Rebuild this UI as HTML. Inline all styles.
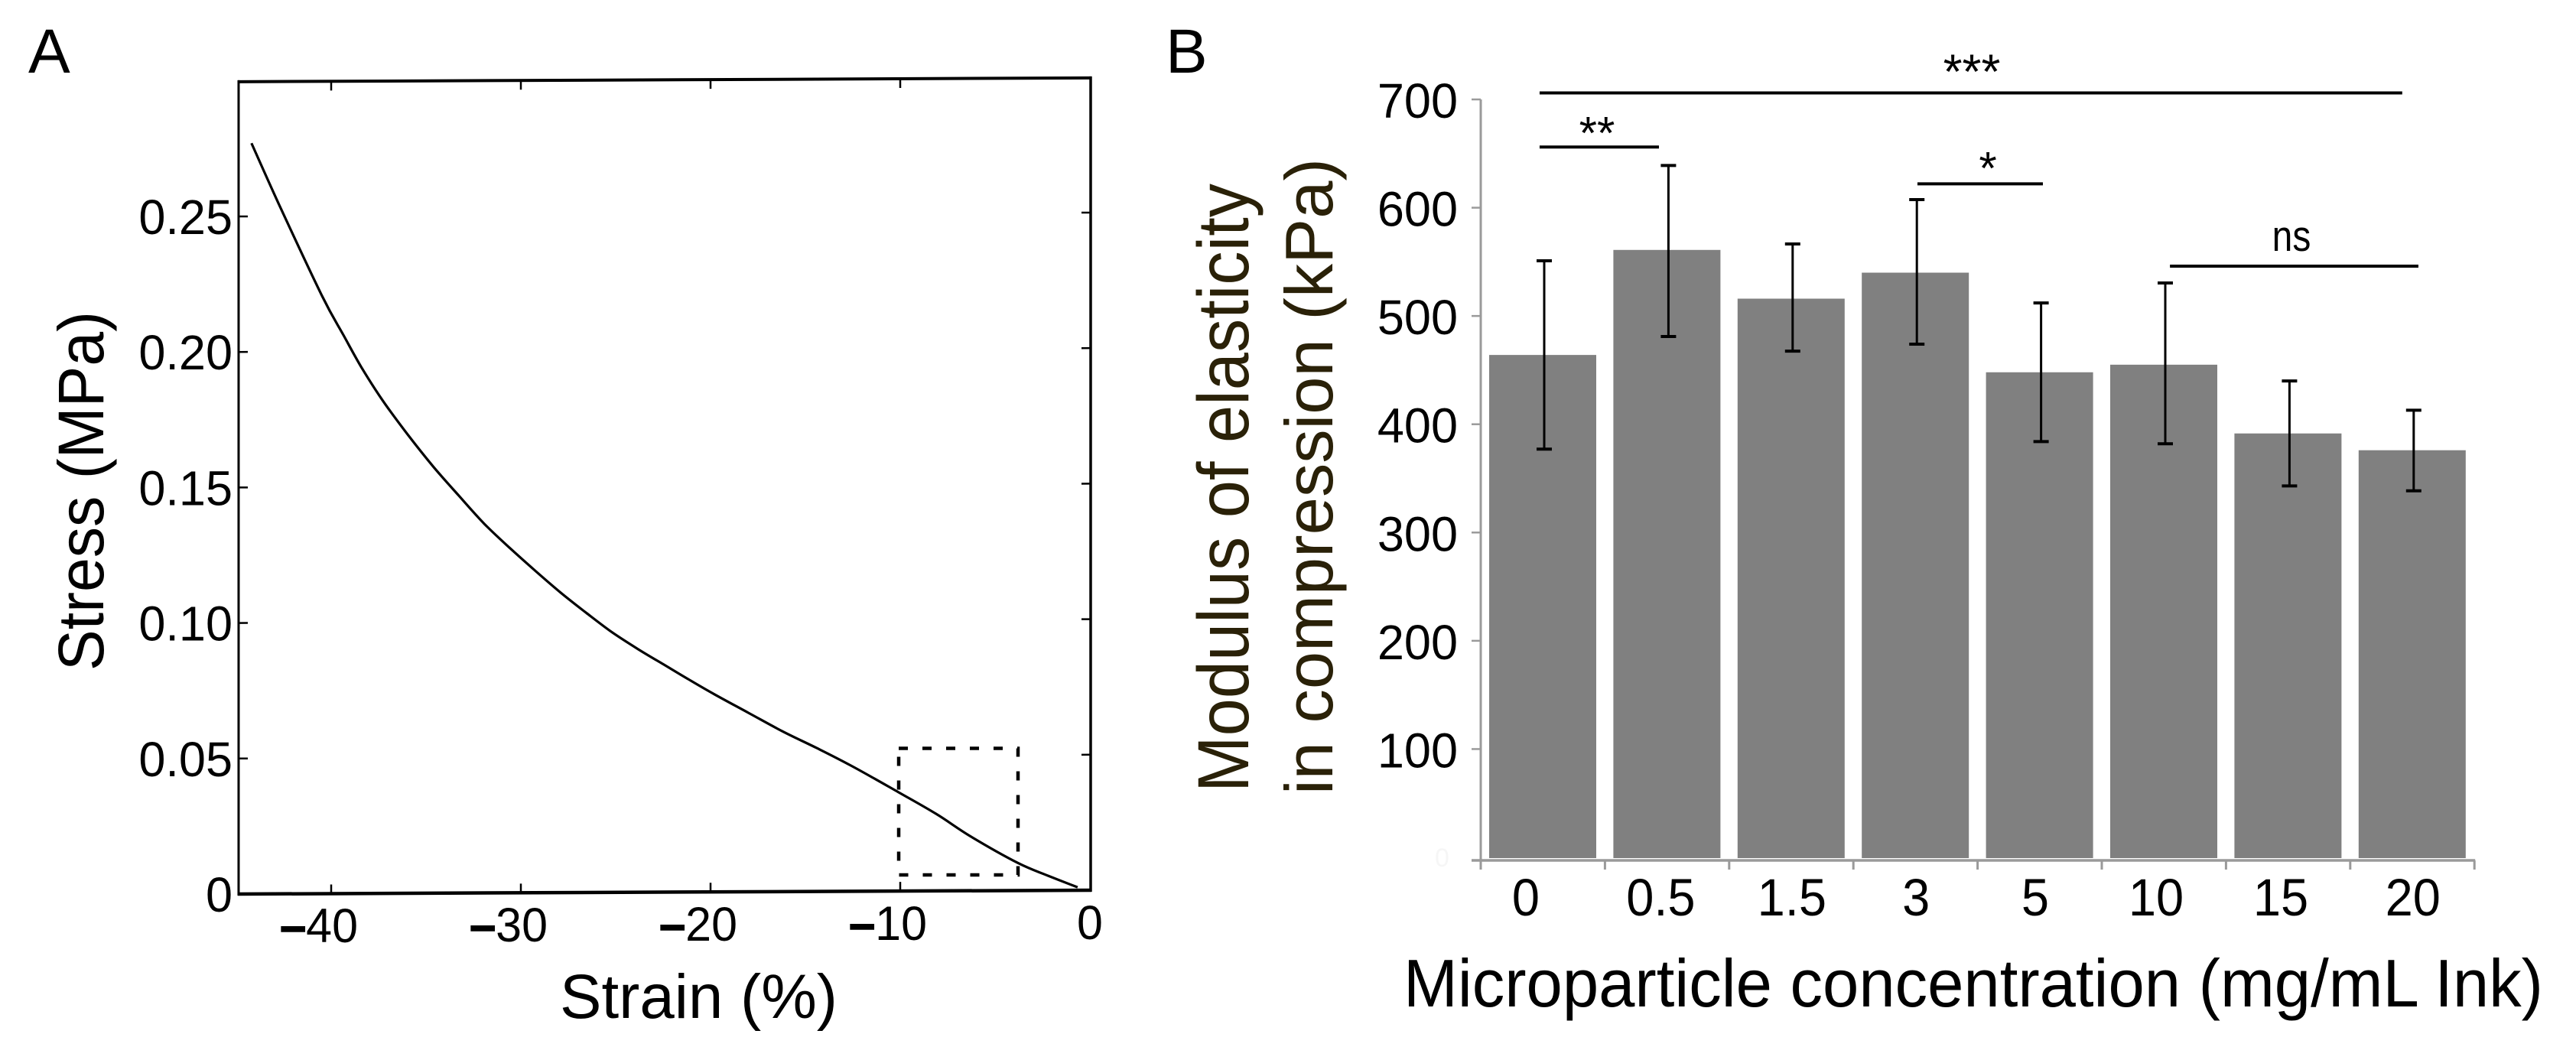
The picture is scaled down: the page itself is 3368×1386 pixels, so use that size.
<!DOCTYPE html>
<html lang="en">
<head>
<meta charset="utf-8">
<title>Stress-strain curve and modulus of elasticity</title>
<style>
html,body{margin:0;padding:0;background:#fff;}
svg{display:block;}
text{font-family:"Liberation Sans",Arial,sans-serif;fill:#000;}
</style>
</head>
<body>
<svg id="figure" xmlns="http://www.w3.org/2000/svg" width="3368" height="1386" viewBox="0 0 3368 1386">
  <rect width="3368" height="1386" fill="#fff"/>
  <text x="37" y="95" font-size="82">A</text>
  <text x="1524" y="95" font-size="82">B</text>

  <g id="panelA">
    <g id="panelASkew" transform="matrix(1,-0.0045,0,1,0,1.404)"></g>
    <g id="panelAOverlay"></g>
    <text font-size="84" textLength="470" lengthAdjust="spacingAndGlyphs" transform="translate(135,877) rotate(-90)">Stress (MPa)</text>
    <text x="732" y="1331" font-size="82" textLength="363" lengthAdjust="spacingAndGlyphs">Strain (%)</text>
  </g>

  <g id="panelB">
    <text font-size="34" x="1876" y="1133" style="fill:#f6f6f6">0</text>
    <g id="barsB"></g>
    <g id="axisB"></g>
    <g id="errorsB"></g>
    <g id="sigB"></g>
    <text font-size="90" textLength="796" lengthAdjust="spacingAndGlyphs" transform="translate(1632,1036) rotate(-90) scale(1,1.05)" style="fill:#2a2108">Modulus of elasticity</text>
    <text font-size="88" textLength="832" lengthAdjust="spacingAndGlyphs" transform="translate(1742,1039) rotate(-90)" style="fill:#2a2108">in compression (kPa)</text>
    <text font-size="85" textLength="1490" lengthAdjust="spacingAndGlyphs" transform="translate(1835,1316) scale(1,1.04)">Microparticle concentration (mg/mL Ink)</text>
  </g>
</svg>
<script>
// ---- Panel A data ----
const strainValues = [-44.2,-42.65,-40.48,-39.35,-38.41,-37.3,-35.96,-34.62,-33.27,-31.93,-30.58,-29.23,-27.89,-26.54,-25.2,-23.85,-22.5,-21.17,-19.8,-18,-16.2,-14.4,-12.6,-10.1,-8.1,-6.3,-3.8,-2.2,-0.65];
const stressValues = [0.277,0.2528,0.2205,0.206,0.1942,0.182,0.1692,0.1574,0.1466,0.1362,0.1272,0.1187,0.1106,0.1031,0.096,0.0898,0.0841,0.0785,0.0729,0.066,0.0591,0.0529,0.0464,0.0365,0.0284,0.0201,0.0102,0.0054,0.0011];
const strainTicks = [-40,-30,-20,-10,0];
const strainTickLabels = ['40','30','20','10','0'];
const stressTicks = [0,0.05,0.1,0.15,0.2,0.25];
const stressTickLabels = ['0','0.05','0.10','0.15','0.20','0.25'];
const strainDomain = [-44.88,0.04];
const stressDomain = [0,0.2997];
const insetStrain = [-10.08,-3.79];
const insetStress = [0.00705,0.05375];

// ---- Panel B data ----
const concentrationLabels = ['0','0.5','1.5','3','5','10','15','20'];
const modulusValues = [464,561,516,540,448,455,391.5,376];
const errorHigh = [551,639,566.5,607.5,512,530.5,440,413];
const errorLow = [377,481,467.5,474,384,382,343,338.5];
const modulusTicks = [100,200,300,400,500,600,700];
const brackets = [
  {from:-0.025,to:6.92,level:706,label:'***'},
  {from:-0.025,to:0.936,level:656,label:'**'},
  {from:3.017,to:4.027,level:622,label:'*'},
  {from:5.05,to:7.05,level:546,label:'ns'}
];

// ---- scales ----
function xA(v){return 1425+24.8*v;}
function yA(v){return 1169-3544*v;}
function yB(v){return 1121-1.4157*v;}
function tickB(i){return 1936+162.4*i;}
function centerB(i){return 2017+162.4*i;}

const NS='http://www.w3.org/2000/svg';
function mk(tag,parent,attrs){
  const el=document.createElementNS(NS,tag);
  for(const k in attrs){el.setAttribute(k,attrs[k]);}
  parent.appendChild(el);
  return el;
}
const nonInteractive='false';

// smooth path through the read points (Catmull-Rom)
function smoothPath(xs,ys){
  let d='M'+xs[0].toFixed(1)+' '+ys[0].toFixed(1);
  for(let i=0;i<xs.length-1;i++){
    const i0=Math.max(i-1,0),i3=Math.min(i+2,xs.length-1);
    const c1x=xs[i]+(xs[i+1]-xs[i0])/6,c1y=ys[i]+(ys[i+1]-ys[i0])/6;
    const c2x=xs[i+1]-(xs[i3]-xs[i])/6,c2y=ys[i+1]-(ys[i3]-ys[i])/6;
    d+=' C'+c1x.toFixed(1)+' '+c1y.toFixed(1)+' '+c2x.toFixed(1)+' '+c2y.toFixed(1)+' '+xs[i+1].toFixed(1)+' '+ys[i+1].toFixed(1);
  }
  return d;
}

// ---- Panel A ----
const skew=document.getElementById('panelASkew');
const overlay=document.getElementById('panelAOverlay');
const L=xA(strainDomain[0]),R=xA(strainDomain[1]),T=yA(stressDomain[1]),B=yA(stressDomain[0]);

const frameLeft=mk('line',skew,{x1:L,y1:T-2,x2:L,y2:B+2,stroke:'#000','stroke-width':3});


const frameRight=mk('line',skew,{x1:R,y1:T-2,x2:R,y2:B+2,stroke:'#000','stroke-width':3.5});


const frameTop=mk('line',skew,{x1:L-1,y1:T,x2:R+1,y2:T,stroke:'#000','stroke-width':4});


const frameBottom=mk('line',skew,{x1:L-1,y1:B,x2:R+1,y2:B,stroke:'#000','stroke-width':4.5});



strainTicks.forEach(function(v,i){
  if(v!==0){
    const tb=mk('line',skew,{x1:xA(v),y1:B,x2:xA(v),y2:B-12,stroke:'#000','stroke-width':2.5});
    
    
    const tt=mk('line',skew,{x1:xA(v),y1:T,x2:xA(v),y2:T+12,stroke:'#000','stroke-width':2.5});
    
    
  }
  const t=mk('text',overlay,{'font-size':61,'text-anchor':v===0?'middle':'end',transform:'translate('+(v===0?xA(v):xA(v)+35)+','+(1232-(i*1))+') scale(1,1.04)'});
  
  
  if(v!==0){
    const dash=mk('tspan',t,{'font-weight':'700',stroke:'#000','stroke-width':1.5});
    
    
    dash.textContent='\u2013';
  }
  const digits=mk('tspan',t,{});
  
  
  digits.textContent=strainTickLabels[i];
});

stressTicks.forEach(function(v,i){
  if(v!==0){
    const tl=mk('line',skew,{x1:L,y1:yA(v),x2:L+12,y2:yA(v),stroke:'#000','stroke-width':2.5});
    
    
    const tr=mk('line',skew,{x1:R,y1:yA(v),x2:R-12,y2:yA(v),stroke:'#000','stroke-width':2.5});
    
    
  }
  const t=mk('text',overlay,{'font-size':63,'text-anchor':'end',transform:'translate(304,'+(yA(v)+23)+') scale(1,1.02)'});
  
  
  t.textContent=stressTickLabels[i];
});

const curve=mk('path',skew,{
  d:smoothPath(strainValues.map(xA),stressValues.map(yA)),
  fill:'none',stroke:'#000','stroke-width':3.2,'stroke-linejoin':'round'
});



const inset=mk('rect',overlay,{
  x:xA(insetStrain[0]),y:yA(insetStress[1]),
  width:xA(insetStrain[1])-xA(insetStrain[0]),
  height:yA(insetStress[0])-yA(insetStress[1]),
  fill:'none',stroke:'#000','stroke-width':4.5,'stroke-dasharray':'12 19'
});



// ---- Panel B ----
const barsG=document.getElementById('barsB');
const axisG=document.getElementById('axisB');
const errG=document.getElementById('errorsB');
const sigG=document.getElementById('sigB');
const axisColor='#9a9a9a';

const axisY=mk('line',axisG,{x1:tickB(0),y1:yB(700),x2:tickB(0),y2:1126,stroke:axisColor,'stroke-width':3});


const axisX=mk('line',axisG,{x1:1924,y1:1125,x2:tickB(8)+1,y2:1125,stroke:axisColor,'stroke-width':3.5});



modulusTicks.forEach(function(v){
  const tk=mk('line',axisG,{x1:1924,y1:yB(v),x2:tickB(0),y2:yB(v),stroke:axisColor,'stroke-width':2.5});
  
  
  const t=mk('text',axisG,{'font-size':63,'text-anchor':'end',transform:'translate(1906,'+(yB(v)+24)+') scale(1,1.02)'});
  
  
  t.textContent=String(v);
});

for(let i=0;i<=concentrationLabels.length;i++){
  const tk=mk('line',axisG,{x1:tickB(i),y1:1125,x2:tickB(i),y2:1137,stroke:axisColor,'stroke-width':3});
  
  
}

const xLabelNudge=[-22,-8,1,1,-5.6,-10,-9.4,1];
concentrationLabels.forEach(function(lab,i){
  const bar=mk('rect',barsG,{x:tickB(i)+11,y:yB(modulusValues[i]),width:140,height:yB(0)-yB(modulusValues[i])+1,fill:'#808080'});
  
  

  const ex=tickB(i)+83;
  const stem=mk('line',errG,{x1:ex,y1:yB(errorHigh[i]),x2:ex,y2:yB(errorLow[i]),stroke:'#000','stroke-width':3});
  
  
  const capT=mk('line',errG,{x1:ex-10,y1:yB(errorHigh[i]),x2:ex+10,y2:yB(errorHigh[i]),stroke:'#000','stroke-width':4});
  
  
  const capB=mk('line',errG,{x1:ex-10,y1:yB(errorLow[i]),x2:ex+10,y2:yB(errorLow[i]),stroke:'#000','stroke-width':4});
  
  

  const t=mk('text',axisG,{'font-size':65,'text-anchor':'middle',transform:'translate('+(centerB(i)+xLabelNudge[i])+',1197) scale(1,1.05)'});
  
  
  t.textContent=lab;
});

const sigCenters=[2578,2088,2599,2996];
const sigSizes=[64,60,60,48];
const sigBaselineGap=[-6,2,0,-20];
const sigScale=[1,1,1,1.18];
brackets.forEach(function(b,i){
  const ln=mk('line',sigG,{x1:centerB(b.from),y1:yB(b.level),x2:centerB(b.to),y2:yB(b.level),stroke:'#000','stroke-width':4});
  
  
  const t=mk('text',sigG,{'font-size':sigSizes[i],'text-anchor':'middle',transform:'translate('+sigCenters[i]+','+(yB(b.level)+sigBaselineGap[i])+') scale(1,'+sigScale[i]+')'});
  
  
  t.textContent=b.label;
});
</script>
</body>
</html>
